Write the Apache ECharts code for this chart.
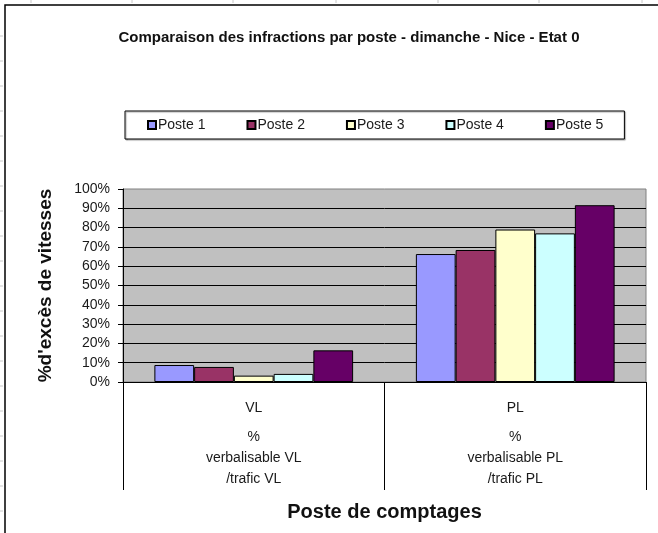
<!DOCTYPE html>
<html>
<head>
<meta charset="utf-8">
<script src="https://cdn.jsdelivr.net/npm/echarts@6/dist/echarts.min.js"></script>
<style>
  html, body { margin: 0; padding: 0; background: #fff; }
  #chart { width: 658px; height: 533px; }
</style>
</head>
<body>
<div id="chart"></div>
<script>
// Categories along the x axis (multi-line labels)
const categories = ['VL', 'PL'];
const categorySubtitles = ['verbalisable VL\n/trafic VL', 'verbalisable PL\n/trafic PL'];

// Series names and their percentages (VL, PL)
const seriesNames = ['Poste 1', 'Poste 2', 'Poste 3', 'Poste 4', 'Poste 5'];
const poste1 = [8.8, 66.3];
const poste2 = [7.8, 68.4];
const poste3 = [3.3, 79.0];
const poste4 = [4.2, 77.0];
const poste5 = [16.4, 91.6];
const seriesValues = [poste1, poste2, poste3, poste4, poste5];
const seriesColors = ['#9999ff', '#993366', '#ffffcc', '#ccffff', '#660066'];

// Y axis ticks
const yMin = 0, yMax = 100, yStep = 10;

const chart = echarts.init(document.getElementById('chart'));

// Faint spreadsheet row / column marks around the frame
const sheetMarks = [];
for (let y = 36; y < 533; y += 25) {
  sheetMarks.push({ type: 'line', shape: { x1: 0, y1: y, x2: 3, y2: y }, style: { stroke: '#c8c8c8', lineWidth: 1 } });
}
[31, 132, 233, 336, 438, 539, 642].forEach(x => {
  sheetMarks.push({ type: 'line', shape: { x1: x, y1: 0, x2: x, y2: 3 }, style: { stroke: '#c8c8c8', lineWidth: 1 } });
});

const option = {
  animation: false,
  backgroundColor: '#ffffff',
  textStyle: { fontFamily: '"Liberation Sans", Arial, sans-serif', color: '#1a1a1a' },
  title: {
    text: 'Comparaison des infractions par poste - dimanche - Nice - Etat 0',
    left: 344, top: 25, textAlign: 'center',
    textStyle: { fontSize: 15, fontWeight: 'bold', color: '#111' }
  },
  graphic: [
    { type: 'rect', shape: { x: 5, y: 5, width: 720, height: 620 }, style: { fill: null, stroke: '#000', lineWidth: 1.5 }, z: -1 }
  ].concat(sheetMarks),
  legend: {
    data: seriesNames,
    left: 125, top: 111,
    padding: [7, 21, 7, 22],
    itemGap: 41,
    itemWidth: 8, itemHeight: 8,
    icon: 'rect',
    borderColor: '#000', borderWidth: 1,
    backgroundColor: '#fff',
    shadowColor: 'rgba(0,0,0,0.35)', shadowOffsetX: 1, shadowOffsetY: 1, shadowBlur: 1,
    textStyle: { fontSize: 14, color: '#1a1a1a', padding: [0, 0, 0, -3] }
  },
  grid: {
    left: 123, right: 12, top: 189, bottom: 151,
    show: true, backgroundColor: '#c0c0c0', borderColor: '#808080', borderWidth: 1
  },
  xAxis: {
    type: 'category',
    data: categories,
    axisLine: { show: true, lineStyle: { color: '#000', width: 1 } },
    axisTick: { show: true, length: 108, lineStyle: { color: '#000', width: 1 } },
    axisLabel: {
      margin: 8,
      formatter: (v, i) => '{a|' + v + '}\n{b|%}\n{c|' + categorySubtitles[i].split('\n').join('}\n{c|') + '}',
      rich: {
        a: { fontSize: 14, lineHeight: 37, color: '#1a1a1a' },
        b: { fontSize: 14, lineHeight: 21, color: '#1a1a1a' },
        c: { fontSize: 14, lineHeight: 21, color: '#1a1a1a' }
      }
    },
    name: 'Poste de comptages',
    nameLocation: 'middle',
    nameGap: 120,
    nameTextStyle: { fontSize: 20, fontWeight: 'bold', color: '#111' }
  },
  yAxis: {
    type: 'value',
    min: yMin, max: yMax, interval: yStep,
    axisLine: { show: true, lineStyle: { color: '#000', width: 1 } },
    axisTick: { show: true, length: 5, lineStyle: { color: '#000' } },
    axisLabel: { formatter: '{value}%', fontSize: 14, margin: 13, color: '#1a1a1a' },
    splitLine: { show: true, showMaxLine: false, lineStyle: { color: '#000', width: 1 } },
    name: "%d'excès de vitesses",
    nameLocation: 'middle',
    nameGap: 68,
    nameTextStyle: { fontSize: 19, fontWeight: 'bold', color: '#111' }
  },
  series: seriesNames.map((name, i) => ({
    name: name,
    type: 'bar',
    data: seriesValues[i],
    barGap: '0%',
    barCategoryGap: '24%',
    itemStyle: { color: seriesColors[i], borderColor: '#000', borderWidth: 1 }
  }))
};

chart.setOption(option);
</script>
</body>
</html>
